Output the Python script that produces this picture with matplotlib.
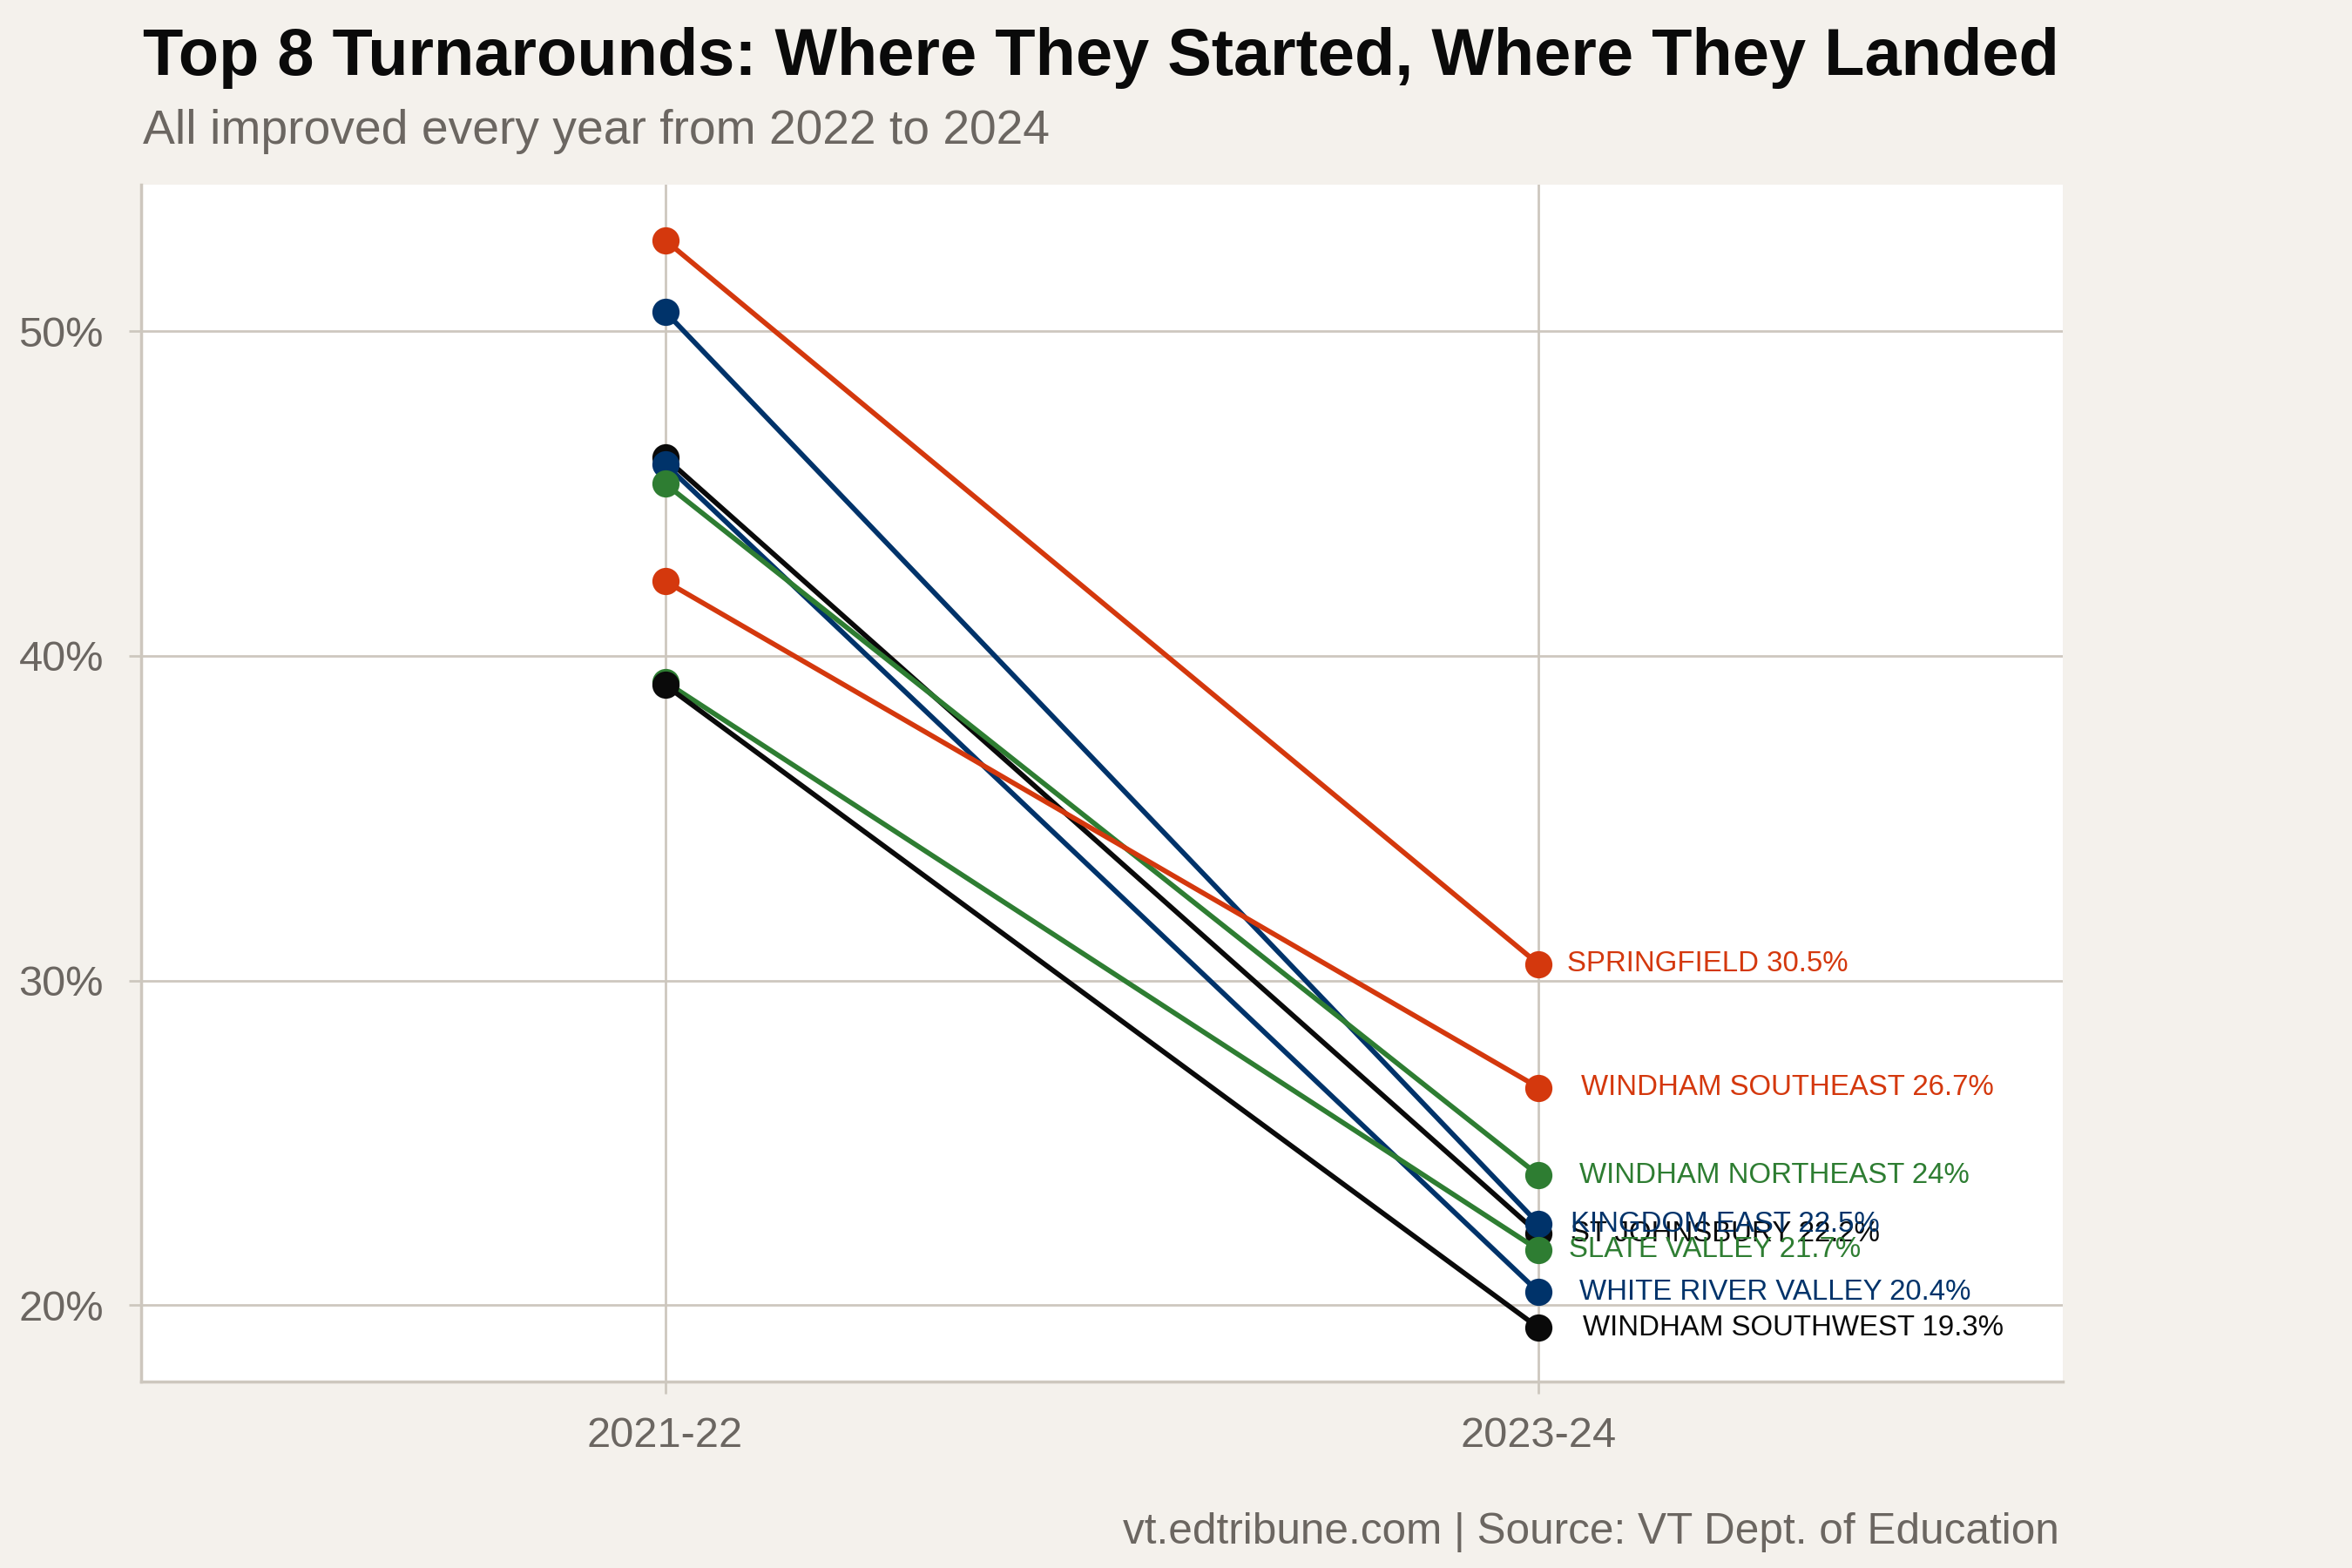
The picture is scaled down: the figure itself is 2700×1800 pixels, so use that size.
import matplotlib
matplotlib.use("Agg")
import matplotlib.pyplot as plt
from matplotlib.ticker import FuncFormatter

plt.rcParams["font.family"] = ["Liberation Sans", "DejaVu Sans"]

# data
years = ["2021-22", "2023-24"]
districts = ["ST JOHNSBURY", "KINGDOM EAST", "WHITE RIVER VALLEY", "WINDHAM NORTHEAST",
             "SLATE VALLEY", "WINDHAM SOUTHWEST", "SPRINGFIELD", "WINDHAM SOUTHEAST"]
start = [46.1, 50.6, 45.9, 45.3, 39.2, 39.1, 52.8, 42.3]
end = [22.2, 22.5, 20.4, 24.0, 21.7, 19.3, 30.5, 26.7]

colors = ["#0a0a0a", "#00336a", "#00336a", "#2e7d32",
          "#2e7d32", "#0a0a0a", "#d4380d", "#d4380d"]
# label nudges (points) to the right of the end dot
nudge = [14.6, 14.6, 18.6, 18.6, 14, 20.4, 13, 19.6]

BG = "#f4f1ec"
GRID = "#cdc7be"
GREY = "#6b6661"

fig = plt.figure(figsize=(15, 10), dpi=180, facecolor=BG)
ax = fig.add_axes([0.06, 0.119, 0.817, 0.763])
ax.set_facecolor("white")

xs = [0, 1]
for name, s, e, c in zip(districts, start, end, colors):
    ax.plot(xs, [s, e], color=c, lw=2.3, marker="o", markersize=11.5,
            solid_capstyle="round", zorder=3)

for name, e, c, dx in zip(districts, end, colors, nudge):
    ax.annotate(f"{name} {e:g}%", xy=(1, e), xytext=(dx, 0),
                textcoords="offset points", ha="left", va="center",
                fontsize=13.2, color=c, zorder=4)

ax.set_xlim(-0.6, 1.6)
ax.set_ylim(17.65, 54.5)
ax.set_xticks(xs)
ax.set_xticklabels(years)
ax.set_yticks([20, 30, 40, 50])
ax.yaxis.set_major_formatter(FuncFormatter(lambda v, p: f"{v:.0f}%"))

ax.grid(True, color=GRID, lw=1.1, zorder=0)
ax.set_axisbelow(True)
for side in ["top", "right"]:
    ax.spines[side].set_visible(False)
for side in ["left", "bottom"]:
    ax.spines[side].set_color(GRID)
    ax.spines[side].set_linewidth(1.4)
ax.tick_params(axis="both", colors=GRID, length=5.7, width=1.1,
               labelcolor=GREY, labelsize=19.5)
ax.tick_params(axis="x", pad=10.5)
ax.tick_params(axis="y", pad=11.5)

fig.text(0.0607, 0.952, "Top 8 Turnarounds: Where They Started, Where They Landed",
         fontsize=30.3, fontweight="bold", color="#0a0a0a", va="baseline", ha="left")
fig.text(0.0607, 0.9083, "All improved every year from 2022 to 2024",
         fontsize=22.1, color=GREY, va="baseline", ha="left")
fig.text(0.8756, 0.0156, "vt.edtribune.com | Source: VT Dept. of Education",
         fontsize=19.8, color=GREY, va="baseline", ha="right")

fig.savefig("out.png", dpi=180, facecolor=BG)
